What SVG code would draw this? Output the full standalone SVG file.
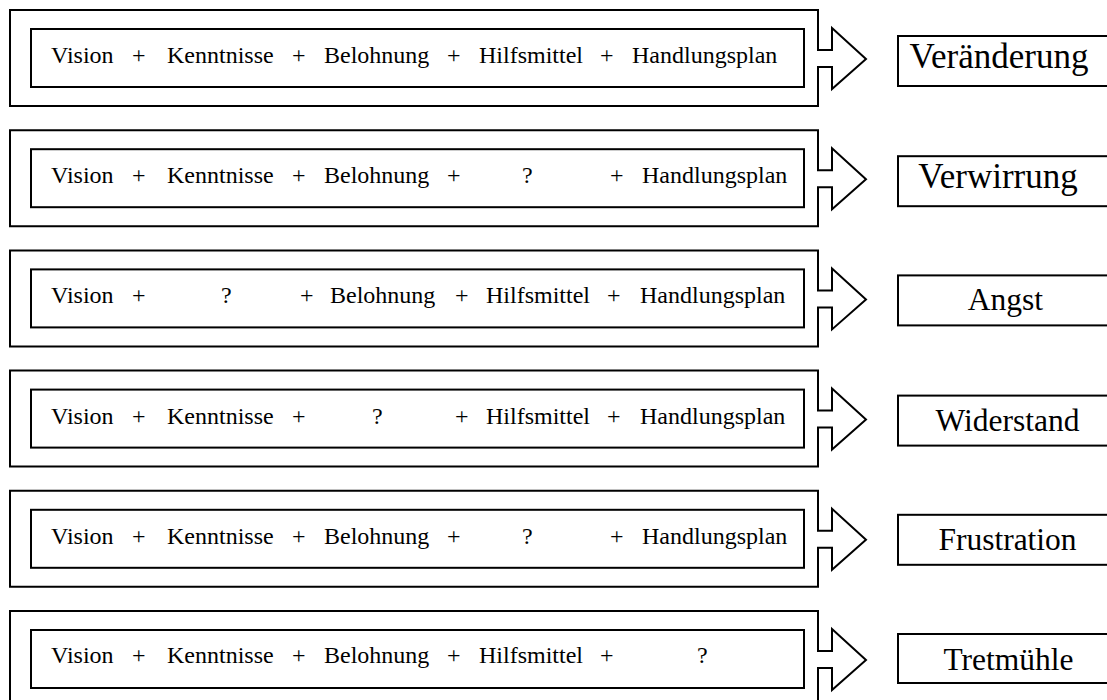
<svg xmlns="http://www.w3.org/2000/svg" width="1107" height="700" viewBox="0 0 1107 700">
<defs>
<style>
.bg{fill:#fff}
.arrow{fill:#fff;stroke:#000;stroke-width:2;stroke-linejoin:miter}
.box{fill:#fff;stroke:#000;stroke-width:2}
.f{font-family:"Liberation Serif","Times New Roman",serif;font-size:24px;fill:#000}
.r{font-family:"Liberation Serif","Times New Roman",serif;font-size:35px;fill:#000;text-anchor:middle}
.r2{font-family:"Liberation Serif","Times New Roman",serif;font-size:31.5px;fill:#000;text-anchor:middle}
</style>
<path id="blk" d="M10,0 H818 V40 H832 V18 L866,49 L832,79 V57 H818 V96 H10 Z"/>
</defs>
<rect class="bg" x="0" y="0" width="1107" height="700"/>
<g id="connectors">
<use href="#blk" class="arrow" transform="translate(0,10)"/>
<use href="#blk" class="arrow" transform="translate(0,130.2)"/>
<use href="#blk" class="arrow" transform="translate(0,250.4)"/>
<use href="#blk" class="arrow" transform="translate(0,370.6)"/>
<use href="#blk" class="arrow" transform="translate(0,490.8)"/>
<use href="#blk" class="arrow" transform="translate(0,611)"/>
</g>
<g id="formula1" transform="translate(0,10)">
<rect class="box" x="31" y="19" width="773" height="58"/>
<text class="f" y="53"><tspan x="51">Vision</tspan><tspan x="132">+</tspan><tspan x="167">Kenntnisse</tspan><tspan x="292">+</tspan><tspan x="324">Belohnung</tspan><tspan x="447">+</tspan><tspan x="479">Hilfsmittel</tspan><tspan x="600">+</tspan><tspan x="632">Handlungsplan</tspan></text>
</g>
<g id="formula2" transform="translate(0,130.2)">
<rect class="box" x="31" y="19" width="773" height="58"/>
<text class="f" y="53"><tspan x="51">Vision</tspan><tspan x="132">+</tspan><tspan x="167">Kenntnisse</tspan><tspan x="292">+</tspan><tspan x="324">Belohnung</tspan><tspan x="447">+</tspan><tspan x="522">?</tspan><tspan x="610">+</tspan><tspan x="642">Handlungsplan</tspan></text>
</g>
<g id="formula3" transform="translate(0,250.4)">
<rect class="box" x="31" y="19" width="773" height="58"/>
<text class="f" y="53"><tspan x="51">Vision</tspan><tspan x="132">+</tspan><tspan x="221">?</tspan><tspan x="300">+</tspan><tspan x="330">Belohnung</tspan><tspan x="455">+</tspan><tspan x="486">Hilfsmittel</tspan><tspan x="607">+</tspan><tspan x="640">Handlungsplan</tspan></text>
</g>
<g id="formula4" transform="translate(0,370.6)">
<rect class="box" x="31" y="19" width="773" height="58"/>
<text class="f" y="53"><tspan x="51">Vision</tspan><tspan x="132">+</tspan><tspan x="167">Kenntnisse</tspan><tspan x="292">+</tspan><tspan x="372">?</tspan><tspan x="455">+</tspan><tspan x="486">Hilfsmittel</tspan><tspan x="607">+</tspan><tspan x="640">Handlungsplan</tspan></text>
</g>
<g id="formula5" transform="translate(0,490.8)">
<rect class="box" x="31" y="19" width="773" height="58"/>
<text class="f" y="53"><tspan x="51">Vision</tspan><tspan x="132">+</tspan><tspan x="167">Kenntnisse</tspan><tspan x="292">+</tspan><tspan x="324">Belohnung</tspan><tspan x="447">+</tspan><tspan x="522">?</tspan><tspan x="610">+</tspan><tspan x="642">Handlungsplan</tspan></text>
</g>
<g id="formula6" transform="translate(0,611)">
<rect class="box" x="31" y="19" width="773" height="58"/>
<text class="f" y="52"><tspan x="51">Vision</tspan><tspan x="132">+</tspan><tspan x="167">Kenntnisse</tspan><tspan x="292">+</tspan><tspan x="324">Belohnung</tspan><tspan x="447">+</tspan><tspan x="479">Hilfsmittel</tspan><tspan x="600">+</tspan><tspan x="697">?</tspan></text>
</g>
<g id="result1" transform="translate(0,10)">
<rect class="box" x="898" y="26" width="220" height="50"/>
<text class="r" x="999" y="58">Veränderung</text>
</g>
<g id="result2" transform="translate(0,130.2)">
<rect class="box" x="898" y="26" width="220" height="50"/>
<text class="r" x="998" y="58">Verwirrung</text>
</g>
<g id="result3" transform="translate(0,250.4)">
<rect class="box" x="898" y="25" width="220" height="50"/>
<text class="r2" x="1005.5" y="60">Angst</text>
</g>
<g id="result4" transform="translate(0,370.6)">
<rect class="box" x="898" y="25" width="220" height="50"/>
<text class="r2" x="1007.5" y="60">Widerstand</text>
</g>
<g id="result5" transform="translate(0,490.8)">
<rect class="box" x="898" y="24" width="220" height="50"/>
<text class="r2" x="1007.5" y="59">Frustration</text>
</g>
<g id="result6" transform="translate(0,611)">
<rect class="box" x="898" y="23" width="220" height="49"/>
<text class="r2" x="1008.5" y="59">Tretmühle</text>
</g>
</svg>
